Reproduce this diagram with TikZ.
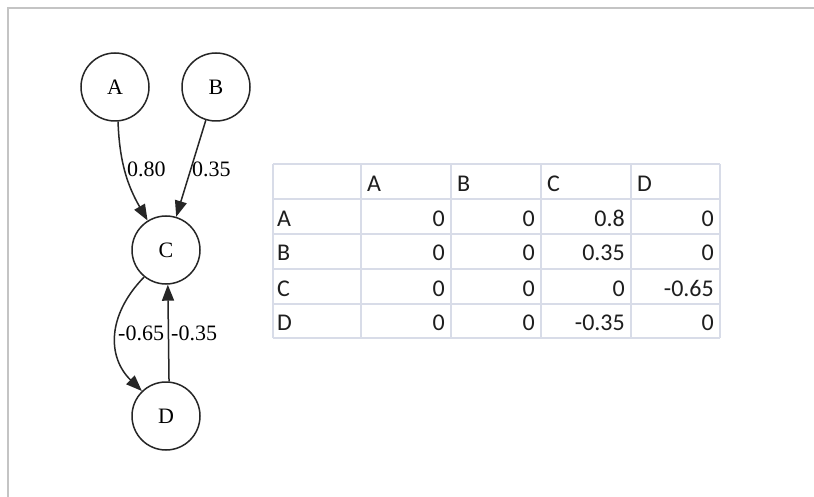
\documentclass[tikz,border=0pt]{standalone}
\usepackage{fontspec}
\setmainfont{Liberation Serif}
\newfontfamily\tabfont{Carlito}
\usetikzlibrary{arrows.meta}
\definecolor{gline}{HTML}{262626}
\definecolor{tline}{HTML}{D8DCE8}
\definecolor{ttext}{HTML}{1E1E1E}
\definecolor{frame}{HTML}{C4C4C4}
\begin{document}
\begin{tikzpicture}[x=1pt,y=-1pt,
  gnode/.style={circle, draw=gline, line width=1.5pt, minimum size=68pt, inner sep=0pt, font=\fontsize{22}{24}\selectfont},
  gedge/.style={draw=gline, line width=1.5pt, -{Triangle[length=16pt,width=12pt]}},
  elabel/.style={anchor=west, inner sep=0pt, font=\fontsize{22}{24}\selectfont},
  tgrid/.style={draw=tline, line width=1.4pt},
  thead/.style={anchor=base west, inner sep=0pt, font=\tabfont\fontsize{24}{26}\selectfont, text=ttext},
  tnum/.style={anchor=base east, inner sep=0pt, font=\tabfont\fontsize{24}{26}\selectfont, text=ttext}
]
\useasboundingbox (0,0) rectangle (814,497);
\fill[white] (0,0) rectangle (814,497);
% frame
\draw[frame, line width=1.5pt] (8,497) -- (8,8) -- (814,8);

% graph nodes
\node[gnode] (A) at (115,87) {A};
\node[gnode] (B) at (216,87) {B};
\node[gnode] (C) at (166,250) {C};
\node[gnode] (D) at (166,416) {D};

% edges
\draw[gedge] (A.-85) to[out=-88, in=120] (C.122);
\draw[gedge] (B) -- (C);
\draw[gedge] (C.-129) .. controls (107,315) and (107,357) .. (D.134);
\draw[gedge] (D.85) -- (C.-87);

% edge labels
\node[elabel] (lac) at (127,169) {0.80};
\node[elabel] (lbc) at (192,169) {0.35};
\node[elabel] (lcd) at (118,333) {-0.65};
\node[elabel] (ldc) at (171,333) {-0.35};

% table grid
\foreach \gx in {273,361,451,541,631,720} \draw[tgrid] (\gx,164) -- (\gx,338);
\foreach \gy in {164,199,234,269,304,338} \draw[tgrid] (273,\gy) -- (720,\gy);

% header
\node[thead] (hA) at (367,192) {A};
\node[thead] (hB) at (457,192) {B};
\node[thead] (hC) at (547,192) {C};
\node[thead] (hD) at (637,192) {D};
% row labels
\node[thead] (rA) at (277,226) {A};
\node[thead] (rB) at (277,261) {B};
\node[thead] (rC) at (277,296) {C};
\node[thead] (rD) at (277,330) {D};
% values
\node[tnum] (vAA) at (445,226) {0};
\node[tnum] (vAB) at (535,226) {0};
\node[tnum] (vAC) at (625,226) {0.8};
\node[tnum] (vAD) at (714,226) {0};
\node[tnum] (vBA) at (445,261) {0};
\node[tnum] (vBB) at (535,261) {0};
\node[tnum] (vBC) at (625,261) {0.35};
\node[tnum] (vBD) at (714,261) {0};
\node[tnum] (vCA) at (445,296) {0};
\node[tnum] (vCB) at (535,296) {0};
\node[tnum] (vCC) at (625,296) {0};
\node[tnum] (vCD) at (714,296) {-0.65};
\node[tnum] (vDA) at (445,330) {0};
\node[tnum] (vDB) at (535,330) {0};
\node[tnum] (vDC) at (625,330) {-0.35};
\node[tnum] (vDD) at (714,330) {0};
\end{tikzpicture}
\end{document}
